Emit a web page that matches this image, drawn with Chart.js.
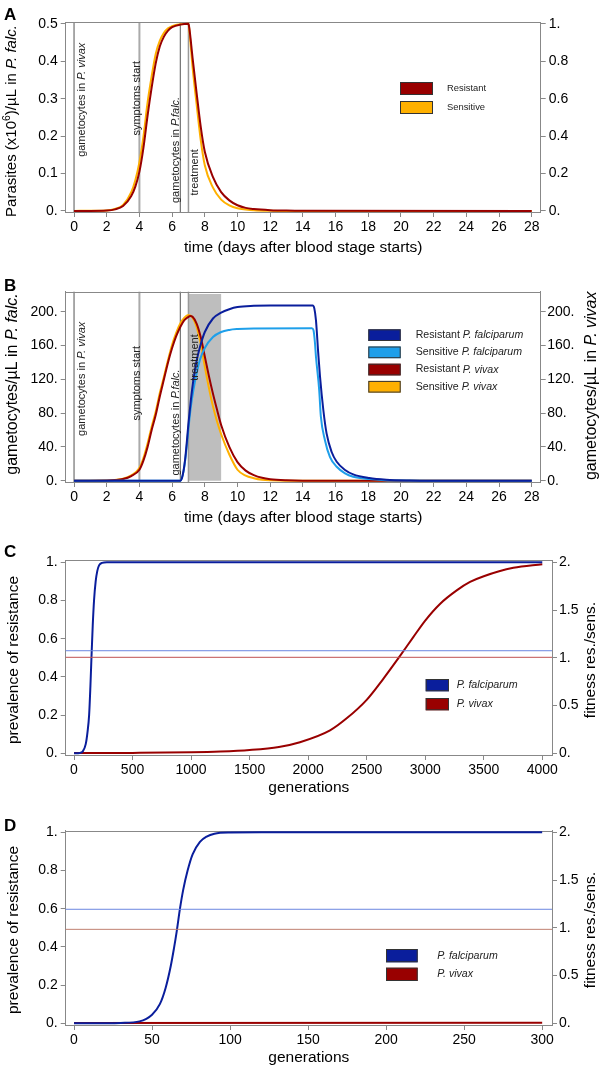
<!DOCTYPE html>
<html><head><meta charset="utf-8">
<script src="https://cdn.jsdelivr.net/npm/chart.js@4.4.1/dist/chart.umd.min.js"></script>
<style>
html,body{margin:0;padding:0;background:#fff;width:600px;height:1065px;overflow:hidden;}
canvas{position:absolute;left:0;}
</style></head><body>
<canvas id="cA" width="600" height="265" style="top:0px"></canvas>
<canvas id="cB" width="600" height="262" style="top:268px"></canvas>
<canvas id="cC" width="600" height="270" style="top:530px"></canvas>
<canvas id="cD" width="600" height="265" style="top:800px"></canvas>
<script>
// ================= DATA =================
// shared time axis (panels A, B)
const timeTicks = [0,2,4,6,8,10,12,14,16,18,20,22,24,26,28];
const timeTickLabels = ['0','2','4','6','8','10','12','14','16','18','20','22','24','26','28'];
// event days: gametocytes in P. vivax, symptoms start, gametocytes in P. falc., treatment
const eventDays = [0, 4, 6.5, 7];

// Panel A: parasites (x10^6)/uL
const aLeftTicks = [0,0.1,0.2,0.3,0.4,0.5];
const aLeftLabels = ['0.','0.1','0.2','0.3','0.4','0.5'];
const aRightTicks = [0,0.2,0.4,0.6,0.8,1];
const aRightLabels = ['0.','0.2','0.4','0.6','0.8','1.'];
const aResX = [0,1,2,2.5,3,3.5,3.75,4,4.25,4.5,4.75,5,5.25,5.5,5.75,6,6.5,7,7.05,7.25,7.5,7.75,8,8.5,9,9.5,10,10.5,11,12,13,14,28];
const aResY = [0,0,0.001,0.004,0.013,0.04,0.065,0.105,0.17,0.255,0.33,0.395,0.44,0.466,0.482,0.491,0.498,0.5,0.49,0.41,0.315,0.225,0.158,0.09,0.05,0.028,0.015,0.008,0.005,0.002,0.0007,0.0002,0];
const aSenX = [0,2,2.5,3,3.5,3.75,4,4.25,4.5,4.75,5,5.25,5.5,5.75,6,6.5,7,7.05,7.25,7.5,7.75,8,8.5,9,9.5,10,10.5,11,12,13,28];
const aSenY = [0,0.001,0.005,0.016,0.05,0.082,0.13,0.2,0.29,0.36,0.42,0.455,0.476,0.488,0.494,0.499,0.5,0.485,0.385,0.285,0.19,0.122,0.062,0.03,0.015,0.007,0.004,0.002,0.0005,0,0];

// Panel B: gametocytes/uL
const bTicks = [0,40,80,120,160,200];
const bLabels = ['0.','40.','80.','120.','160.','200.'];
const treatmentSpan = [7, 9];
const treatmentTop = 221;
const bFalResX = [0,6.5,6.6,6.7,6.8,6.9,7,7.15,7.3,7.5,7.7,8,8.5,9,9.5,10,11,12,14.6,14.7,14.8,14.94,15.05,15.25,15.45,15.76,16.07,16.58,17.08,18.06,19.1,20.5,22,28];
const bFalResY = [0,0,3,12,26,46,68,96,119,142,158,176,192,199,203,205.5,207,207.5,207.5,204,190,151,123,84,56,34,22.5,12.7,7.5,3.2,1.2,0.3,0.05,0];
const bFalSenX = [0,6.5,6.6,6.7,6.8,6.9,7,7.15,7.3,7.5,7.7,8,8.5,9,9.5,10,11,14.55,14.65,14.74,14.8,15,15.1,15.35,15.66,16.07,16.58,17.08,18.06,19,20,22,28];
const bFalSenY = [0,0,3,11,24,42,62,88,107,127,143,157,170,176,178.5,179.5,180.2,180.3,178,163,147,107,76,48,28,16.5,8.7,4.7,2,0.7,0.2,0.02,0];
const bVivResX = [0,2,2.5,3,3.5,4,4.25,4.5,4.75,5,5.25,5.5,5.75,6,6.25,6.5,6.75,7,7.1,7.25,7.5,7.75,8,8.25,8.5,8.75,9,9.5,10,10.5,11,11.5,12,13,14,28];
const bVivResY = [0,0.2,0.8,2,5.5,13,24,40,60,78,100,120,140,157,171,182,190,194,195,194,186,170,147,124,103,84,66,40,22,12,6.7,3.5,1.8,0.5,0.1,0];
const bVivSenX = [0,2,2.5,3,3.5,4,4.25,4.5,4.75,5,5.25,5.5,5.75,6,6.25,6.5,6.75,7,7.25,7.5,7.75,8,8.25,8.5,8.75,9,9.5,10,10.5,11,11.5,12,13,28];
const bVivSenY = [0,0.2,0.9,2.4,6.5,15,27,44,64,82,104,123,143,161,175,186,193,196,193,182,162,135,110,88,70,55,31,13,6,3,1.2,0.5,0.1,0];

// Panels C, D: prevalence of resistance and fitness
const prevTicks = [0,0.2,0.4,0.6,0.8,1];
const prevLabels = ['0.','0.2','0.4','0.6','0.8','1.'];
const fitTicks = [0,0.5,1,1.5,2];
const fitLabels = ['0.','0.5','1.','1.5','2.'];
const genTicksC = [0,500,1000,1500,2000,2500,3000,3500,4000];
const genLabelsC = ['0','500','1000','1500','2000','2500','3000','3500','4000'];
const cFalX = [0,50,75,100,115,129,140,149,160,171,185,199,215,240,280,4000];
const cFalY = [0,0.002,0.01,0.048,0.11,0.2,0.35,0.5,0.67,0.8,0.9,0.955,0.985,0.997,1,1];
const cVivX = [0,500,1000,1250,1500,1750,1930,2187,2329,2500,2642,2785,2898,3000,3126,3269,3383,3500,3753,4000];
const cVivY = [0.001,0.002,0.005,0.009,0.017,0.033,0.058,0.12,0.183,0.28,0.39,0.51,0.608,0.695,0.782,0.853,0.897,0.927,0.971,0.99];
const cFitness = [1.074, 1.005]; // P. falciparum, P. vivax

const genTicksD = [0,50,100,150,200,250,300];
const genLabelsD = ['0','50','100','150','200','250','300'];
const dFalX = [0,20,30,42,50,55,58.7,62,64,65.8,67.9,70,72.8,76,80.7,85,90,100,120,300];
const dFalY = [0,0.0005,0.002,0.01,0.045,0.1,0.185,0.3,0.39,0.48,0.6,0.7,0.8,0.885,0.95,0.978,0.993,0.999,1,1];
const dVivX = [0,300];
const dVivY = [0.002,0.003];
const dFitness = [1.194, 0.984];

// ================= STYLE / HELPERS =================
const FONT = "'Liberation Sans', Arial, Helvetica, sans-serif";
const C_RED = '#990000', C_ORANGE = '#FFB000', C_DBLUE = '#0A1E9C', C_LBLUE = '#1E9FEA';
const FRAME = '#888';

function pts(xs, ys){ return xs.map((x,i)=>({x:x, y:ys[i]})); }
function ds(label, xs, ys, color, axis){
  return {label:label, data:pts(xs,ys), borderColor:color, backgroundColor:color, borderWidth:2,
    pointRadius:0, fill:false, cubicInterpolationMode:'monotone', yAxisID:axis||'y', borderJoinStyle:'round'};
}
function xAxis(o){
  return {type:'linear', position:'bottom', min:o.min, max:o.max,
    afterBuildTicks:s=>{ s.ticks = o.ticks.map(v=>({value:v})); },
    afterFit:s=>{ s.height = o.h; },
    ticks:{autoSkip:false, maxRotation:0, minRotation:0, padding:1.5, color:'#000', font:{family:FONT,size:14}, callback:(v,i)=>o.labels[i]},
    grid:{display:true, drawOnChartArea:false, drawTicks:true, tickLength:5, tickColor:FRAME, color:FRAME, lineWidth:1},
    border:{display:true, color:FRAME, width:1},
    title:{display:true, text:o.title, color:'#000', font:{family:FONT,size:15.5}, padding:{top:0,bottom:o.tp}}};
}
function yAxis(o){
  return {type:'linear', position:o.pos, min:o.min, max:o.max,
    afterBuildTicks:s=>{ s.ticks = o.ticks.map(v=>({value:v})); },
    afterFit:s=>{ s.width = o.w; },
    ticks:{autoSkip:false, padding:o.pad, color:'#000', font:{family:FONT,size:14}, callback:(v,i)=>o.labels[i]},
    grid:{display:true, drawOnChartArea:false, drawTicks:true, tickLength:5, tickColor:FRAME, color:FRAME, lineWidth:1},
    border:{display:true, color:FRAME, width:1},
    title:{display:false}};
}
function drawRich(ctx, segs, x, y, size, rot, align, color){
  ctx.save();
  ctx.translate(x, y);
  if (rot) ctx.rotate(rot);
  ctx.textBaseline = 'middle';
  ctx.textAlign = 'left';
  ctx.fillStyle = color || '#000';
  const fontOf = s => (s.i ? 'italic ' : '') + (s.sup ? size*0.7 : size) + 'px ' + FONT;
  let total = 0;
  const ws = segs.map(s=>{ ctx.font = fontOf(s); const w = ctx.measureText(s.t).width; total += w; return w; });
  let cx = align === 'left' ? 0 : -total/2;
  segs.forEach((s,k)=>{ ctx.font = fontOf(s); ctx.fillText(s.t, cx, s.sup ? -size*0.33 : 0); cx += ws[k]; });
  ctx.restore();
}
const vlineStyle = [{c:'#555',w:1},{c:'#aaa',w:2},{c:'#555',w:1},{c:'#999',w:1.5}];

function decor(spec){
  return {
    id:'decor',
    beforeDatasetsDraw(chart){
      const ctx = chart.ctx, a = chart.chartArea, xs = chart.scales.x, ys = chart.scales.y;
      ctx.save();
      if (spec.span){
        const x0 = xs.getPixelForValue(spec.span[0]), x1 = xs.getPixelForValue(spec.span[1]);
        const y0 = ys.getPixelForValue(0), y1 = ys.getPixelForValue(spec.spanTop);
        ctx.fillStyle = '#bebebe';
        ctx.fillRect(x0, y1, x1-x0, y0-y1);
      }
      if (spec.vlines){
        spec.vlines.forEach((v,i)=>{
          const px = xs.getPixelForValue(v), st = vlineStyle[i];
          ctx.strokeStyle = st.c; ctx.lineWidth = st.w;
          ctx.beginPath(); ctx.moveTo(px, a.top); ctx.lineTo(px, a.bottom); ctx.stroke();
        });
      }
      // top frame line
      ctx.strokeStyle = FRAME; ctx.lineWidth = 1;
      ctx.beginPath(); ctx.moveTo(a.left, Math.round(a.top)+0.5); ctx.lineTo(a.right, Math.round(a.top)+0.5); ctx.stroke();
      ctx.restore();
    },
    afterDatasetsDraw(chart){
      const ctx = chart.ctx, a = chart.chartArea, xs = chart.scales.x, ys = chart.scales.y, y2 = chart.scales.y2;
      ctx.save();
      if (spec.hlines){
        spec.hlines.forEach(h=>{
          const py = y2.getPixelForValue(h.v);
          ctx.strokeStyle = h.c; ctx.lineWidth = 1;
          ctx.beginPath(); ctx.moveTo(a.left, py); ctx.lineTo(a.right, py); ctx.stroke();
        });
      }
      if (spec.notes){
        spec.notes.forEach(n=>{
          const px = xs.getPixelForValue(n.at) + n.dx, py = ys.getPixelForValue(n.y);
          drawRich(ctx, n.segs, px, py, 11, -Math.PI/2, 'center', '#222');
        });
      }
      if (spec.legend){
        const L = spec.legend;
        L.items.forEach((it,k)=>{
          const by = L.y + k*L.pitch;
          ctx.fillStyle = it.c; ctx.fillRect(L.x, by, L.bw, L.bh);
          ctx.strokeStyle = '#333'; ctx.lineWidth = 1; ctx.strokeRect(L.x+0.5, by+0.5, L.bw-1, L.bh-1);
          drawRich(ctx, it.segs, L.tx, by + L.bh/2, L.size, 0, 'left', '#222');
        });
      }
      spec.titles.forEach(t=> drawRich(ctx, t.segs, t.x, t.y, t.size, -Math.PI/2, 'center', '#000'));
      ctx.fillStyle = '#000'; ctx.font = 'bold 17px ' + FONT; ctx.textAlign = 'left'; ctx.textBaseline = 'alphabetic';
      ctx.fillText(spec.letter.t, spec.letter.x, spec.letter.y);
      ctx.restore();
    }
  };
}
function baseOptions(padTop, scales){
  return {responsive:false, animation:false, events:[],
    layout:{padding:{top:padTop, left:0, right:0, bottom:0}},
    plugins:{legend:{display:false}, tooltip:{enabled:false}},
    scales:scales};
}
const timeTitle = 'time (days after blood stage starts)';

// ================= PANEL A =================
new Chart(document.getElementById('cA'), {
  type:'line',
  data:{datasets:[ ds('Resistant', aResX, aResY, C_RED), ds('Sensitive', aSenX, aSenY, C_ORANGE) ]},
  options: baseOptions(22, {
    x: xAxis({min:-0.51, max:28.55, ticks:timeTicks, labels:timeTickLabels, h:53, title:timeTitle, tp:7.5}),
    y: yAxis({pos:'left', min:-0.003, max:0.505, ticks:aLeftTicks, labels:aLeftLabels, w:65.7, pad:3}),
    y2: yAxis({pos:'right', min:-0.006, max:1.01, ticks:aRightTicks, labels:aRightLabels, w:59.3, pad:3})
  }),
  plugins:[decor({
    letter:{t:'A', x:4, y:20},
    vlines: eventDays,
    notes:[
      {at:eventDays[0], dx:7.7, y:0.297, segs:[{t:'gametocytes in '},{t:'P. vivax',i:1}]},
      {at:eventDays[1], dx:-2.7, y:0.301, segs:[{t:'symptoms start'}]},
      {at:eventDays[2], dx:-4.6, y:0.163, segs:[{t:'gametocytes in '},{t:'P.falc.',i:1}]},
      {at:eventDays[3], dx:6.3, y:0.103, segs:[{t:'treatment'}]}
    ],
    legend:{x:400, y:82, bw:33, bh:13, pitch:19, tx:447, size:9.4, items:[
      {c:C_RED, segs:[{t:'Resistant'}]}, {c:C_ORANGE, segs:[{t:'Sensitive'}]} ]},
    titles:[ {x:12, y:121, size:15, segs:[{t:'Parasites (x10'},{t:'6',sup:1},{t:')/µL in '},{t:'P. falc.',i:1}]} ]
  })]
});

// ================= PANEL B =================
new Chart(document.getElementById('cB'), {
  type:'line',
  data:{datasets:[
    ds('Resistant P. falciparum', bFalResX, bFalResY, C_DBLUE),
    ds('Sensitive P. falciparum', bFalSenX, bFalSenY, C_LBLUE),
    ds('Resistant P. vivax', bVivResX, bVivResY, C_RED, 'y2'),
    ds('Sensitive P. vivax', bVivSenX, bVivSenY, C_ORANGE, 'y2') ]},
  options: baseOptions(23.7, {
    x: xAxis({min:-0.51, max:28.55, ticks:timeTicks, labels:timeTickLabels, h:48, title:timeTitle, tp:2.5}),
    y: yAxis({pos:'left', min:-1.5, max:223.7, ticks:bTicks, labels:bLabels, w:65.7, pad:3}),
    y2: yAxis({pos:'right', min:-1.5, max:223.7, ticks:bTicks, labels:bLabels, w:59.3, pad:1.5})
  }),
  plugins:[decor({
    letter:{t:'B', x:4, y:23},
    span: treatmentSpan, spanTop: treatmentTop,
    vlines: eventDays,
    notes:[
      {at:eventDays[0], dx:7.7, y:120.6, segs:[{t:'gametocytes in '},{t:'P. vivax',i:1}]},
      {at:eventDays[1], dx:-2.7, y:115.3, segs:[{t:'symptoms start'}]},
      {at:eventDays[2], dx:-4.6, y:68.9, segs:[{t:'gametocytes in '},{t:'P.falc.',i:1}]},
      {at:eventDays[3], dx:6.6, y:145.8, segs:[{t:'treatment'}]}
    ],
    legend:{x:368.3, y:61.3, bw:32.4, bh:11.7, pitch:17.2, tx:415.7, size:10.6, items:[
      {c:C_DBLUE, segs:[{t:'Resistant '},{t:'P. falciparum',i:1}]},
      {c:C_LBLUE, segs:[{t:'Sensitive '},{t:'P. falciparum',i:1}]},
      {c:C_RED, segs:[{t:'Resistant '},{t:'P. vivax',i:1}]},
      {c:C_ORANGE, segs:[{t:'Sensitive '},{t:'P. vivax',i:1}]} ]},
    titles:[
      {x:12.5, y:116, size:16, segs:[{t:'gametocytes/µL in '},{t:'P. falc.',i:1}]},
      {x:591.5, y:117.8, size:16, segs:[{t:'gametocytes/µL in '},{t:'P. vivax',i:1}]} ]
  })]
});

// ================= PANEL C =================
new Chart(document.getElementById('cC'), {
  type:'line',
  data:{datasets:[ ds('P. falciparum', cFalX, cFalY, C_DBLUE), ds('P. vivax', cVivX, cVivY, C_RED) ]},
  options: baseOptions(30, {
    x: xAxis({min:-71, max:4083, ticks:genTicksC, labels:genLabelsC, h:45, title:'generations', tp:3}),
    y: yAxis({pos:'left', min:-0.009, max:1.012, ticks:prevTicks, labels:prevLabels, w:65.7, pad:3}),
    y2: yAxis({pos:'right', min:-0.018, max:2.024, ticks:fitTicks, labels:fitLabels, w:48, pad:2})
  }),
  plugins:[decor({
    letter:{t:'C', x:4, y:27},
    hlines:[ {v:cFitness[0], c:'#6b86e0'}, {v:cFitness[1], c:'#c05050'} ],
    legend:{x:425.7, y:149, bw:23.3, bh:12.3, pitch:19, tx:456.7, size:10.7, items:[
      {c:C_DBLUE, segs:[{t:'P. falciparum',i:1}]}, {c:C_RED, segs:[{t:'P. vivax',i:1}]} ]},
    titles:[
      {x:14, y:130, size:15.5, segs:[{t:'prevalence of resistance'}]},
      {x:591, y:130, size:15.5, segs:[{t:'fitness res./sens.'}]} ]
  })]
});

// ================= PANEL D =================
new Chart(document.getElementById('cD'), {
  type:'line',
  data:{datasets:[ ds('P. falciparum', dFalX, dFalY, C_DBLUE), ds('P. vivax', dVivX, dVivY, C_RED) ]},
  options: baseOptions(30.7, {
    x: xAxis({min:-5.32, max:306.3, ticks:genTicksD, labels:genLabelsD, h:40, title:'generations', tp:-2}),
    y: yAxis({pos:'left', min:-0.009, max:1.0085, ticks:prevTicks, labels:prevLabels, w:65.7, pad:3}),
    y2: yAxis({pos:'right', min:-0.018, max:2.017, ticks:fitTicks, labels:fitLabels, w:48, pad:2})
  }),
  plugins:[decor({
    letter:{t:'D', x:4, y:31},
    hlines:[ {v:dFitness[0], c:'#6b86e0'}, {v:dFitness[1], c:'#c08070'} ],
    legend:{x:386, y:149, bw:31.7, bh:13.3, pitch:18.7, tx:437.3, size:10.6, items:[
      {c:C_DBLUE, segs:[{t:'P. falciparum',i:1}]}, {c:C_RED, segs:[{t:'P. vivax',i:1}]} ]},
    titles:[
      {x:14, y:130, size:15.5, segs:[{t:'prevalence of resistance'}]},
      {x:591, y:130, size:15.5, segs:[{t:'fitness res./sens.'}]} ]
  })]
});
</script>
</body></html>
